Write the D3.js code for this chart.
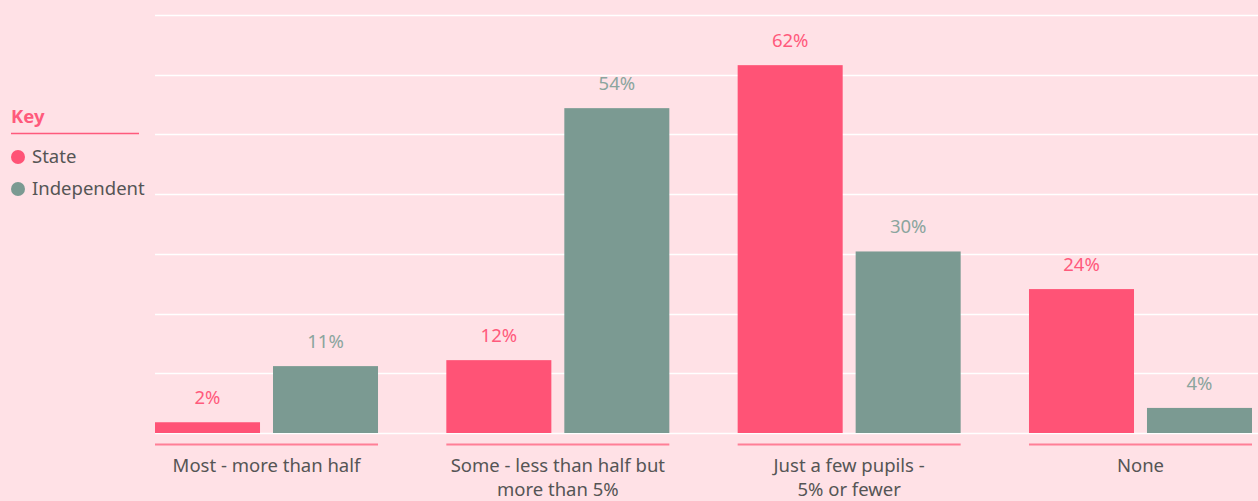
<!DOCTYPE html>
<html>
<head>
<meta charset="utf-8">
<script src="https://cdn.jsdelivr.net/npm/d3@7"></script>
<style>
  body { margin: 0; background: #ffe1e6; }
  svg { display: block; font-family: "Noto Sans", sans-serif; }
</style>
</head>
<body>
<svg id="chart" width="1258" height="501"></svg>
<script>
  const categories = [
    ['Most - more than half'],
    ['Some - less than half but', 'more than 5%'],
    ['Just a few pupils -', '5% or fewer'],
    ['None']
  ]
  const seriesNames = ['State', 'Independent']
  const stateValues = [1.8, 12.2, 61.6, 24.1]
  const independentValues = [11.2, 54.4, 30.4, 4.2]
  const gridTicks = [0, 10, 20, 30, 40, 50, 60, 70]

  const colors = { State: '#ff5376', Independent: '#7b9a92' }
  const labelColors = { State: '#ff5a7c', Independent: '#8ba59e' }

  const
    width = 1258,
    left = 155,
    baseline = 433,
    fontSize = 18.5

  const svg = d3.select('#chart')

  const x = d3.scaleBand()
    .domain(d3.range(categories.length))
    .range([left, 1252])
    .paddingInner(0.2345)
    .paddingOuter(0)

  const inner = d3.scaleBand()
    .domain(seriesNames)
    .range([0, x.bandwidth()])
    .paddingInner(0.11)

  const y = d3.scaleLinear()
    .domain([0, 70])
    .range([baseline, 15])

  // gridlines
  svg.append('g')
    .selectAll('line')
    .data(gridTicks)
    .join('line')
    .attr('x1', left)
    .attr('x2', width)
    .attr('y1', d => Math.round(y(d)) + 0.5)
    .attr('y2', d => Math.round(y(d)) + 0.5)
    .attr('stroke', '#ffffff')
    .attr('stroke-width', 1.5)

  const data = categories.map((c, i) => ({
    i: i,
    lines: c,
    values: [
      { key: 'State', value: stateValues[i] },
      { key: 'Independent', value: independentValues[i] }
    ]
  }))

  const groups = svg.append('g')
    .selectAll('g')
    .data(data)
    .join('g')
    .attr('transform', d => 'translate(' + x(d.i) + ',0)')

  groups.selectAll('rect')
    .data(d => d.values)
    .join('rect')
    .attr('x', d => inner(d.key))
    .attr('width', inner.bandwidth())
    .attr('y', d => y(d.value))
    .attr('height', d => baseline - y(d.value))
    .attr('fill', d => colors[d.key])

  groups.selectAll('text.val')
    .data(d => d.values)
    .join('text')
    .attr('class', 'val')
    .attr('x', d => inner(d.key) + inner.bandwidth() / 2)
    .attr('y', d => y(d.value) - 18)
    .attr('text-anchor', 'middle')
    .attr('font-size', fontSize)
    .attr('fill', d => labelColors[d.key])
    .text(d => Math.round(d.value) + '%')

  // pink underline per group
  groups.append('line')
    .attr('x1', 0)
    .attr('x2', x.bandwidth())
    .attr('y1', 444.5)
    .attr('y2', 444.5)
    .attr('stroke', '#ff7f96')
    .attr('stroke-width', 2)

  groups.append('text')
    .attr('text-anchor', 'middle')
    .attr('font-size', fontSize)
    .attr('fill', '#555555')
    .selectAll('tspan')
    .data(d => d.lines)
    .join('tspan')
    .attr('x', x.bandwidth() / 2)
    .attr('y', (d, i) => 472 + i * 24)
    .text(d => d)

  // legend
  const legend = svg.append('g')
  legend.append('text')
    .attr('x', 11)
    .attr('y', 123)
    .attr('font-size', fontSize)
    .attr('font-weight', 'bold')
    .attr('fill', '#ff5a7c')
    .text('Key')
  legend.append('line')
    .attr('x1', 11)
    .attr('x2', 139)
    .attr('y1', 133.5)
    .attr('y2', 133.5)
    .attr('stroke', '#ff5a7c')
    .attr('stroke-width', 1.5)

  const items = legend.selectAll('g.item')
    .data(seriesNames)
    .join('g')
    .attr('class', 'item')
    .attr('transform', (d, i) => 'translate(0,' + (157 + i * 32) + ')')
  items.append('circle')
    .attr('cx', 18)
    .attr('cy', 0)
    .attr('r', 7)
    .attr('fill', d => colors[d])
  items.append('text')
    .attr('x', 32)
    .attr('y', 6)
    .attr('font-size', fontSize)
    .attr('fill', '#555555')
    .text(d => d)
</script>
</body>
</html>
